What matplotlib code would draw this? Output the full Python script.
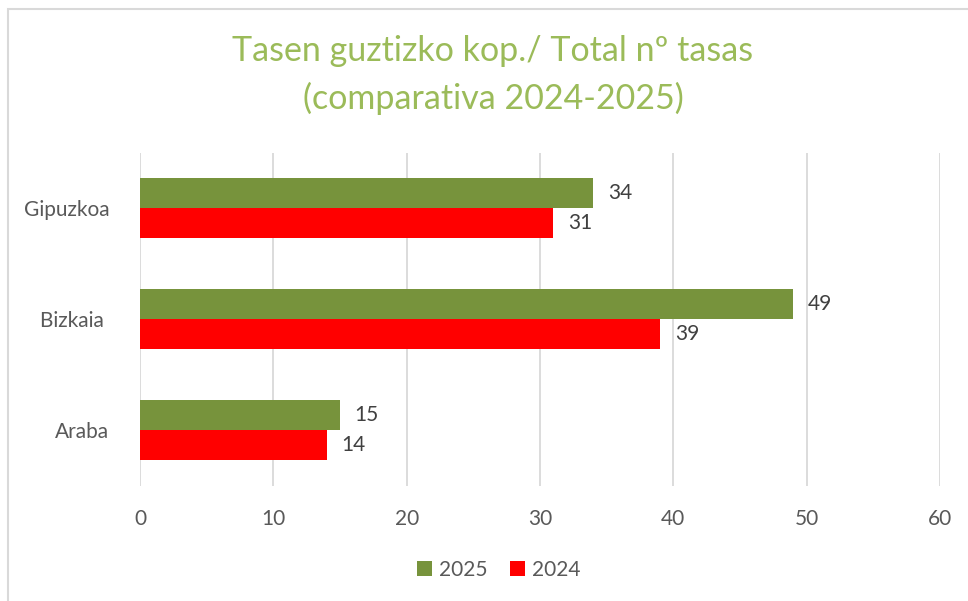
import matplotlib
matplotlib.use("Agg")
import matplotlib.pyplot as plt
from matplotlib.patches import Rectangle, Patch
import numpy as np

categories = ["Araba", "Bizkaia ", "Gipuzkoa"]
values_2025 = [15, 49, 34]
values_2024 = [14, 39, 31]
series_labels = ["2025", "2024"]
xticks = [0, 10, 20, 30, 40, 50, 60]
title_text = "Tasen guztizko kop./ Total nº tasas\n(comparativa 2024-2025)"

plt.rcParams['font.family'] = ['Lato', 'DejaVu Sans']

W, H = 968, 601
fig = plt.figure(figsize=(W/100, H/100), dpi=100)
fig.patch.set_facecolor("white")

# outer border
fig.patches.append(Rectangle((8/W, -0.1), 1.2, 1 - 9/H + 0.1, transform=fig.transFigure,
                             fill=False, edgecolor="#D9D9D9", linewidth=1.5))

left, right = 140/W, 940/W
top, bottom = 1 - 152.5/H, 1 - 485.5/H
ax = fig.add_axes([left, bottom, right - left, top - bottom])

y = np.arange(len(categories))
h = 0.266
green = "#77933C"
red = "#FF0000"
ax.barh(y + h/2, values_2025, height=h, color=green, label=series_labels[0], zorder=3)
ax.barh(y - h/2, values_2024, height=h, color=red, label=series_labels[1], zorder=3)

for yi, v in zip(y, values_2025):
    ax.text(v + 1.1, yi + h/2, str(v), va="center", ha="left", fontsize=15, color="#404040")
for yi, v in zip(y, values_2024):
    ax.text(v + 1.1, yi - h/2, str(v), va="center", ha="left", fontsize=15, color="#404040")

ax.set_xlim(0, 60)
ax.set_ylim(-0.5, 2.5)
ax.set_xticks(xticks)
ax.set_xticklabels([str(t) for t in xticks], fontsize=15, color="#595959")
ax.set_yticks(y)
ax.set_yticklabels(categories, fontsize=15, color="#595959")
ax.tick_params(axis="both", length=0)
ax.tick_params(axis="x", pad=17)
ax.tick_params(axis="y", pad=22)
ax.xaxis.grid(True, color="#D9D9D9", linewidth=1.3, zorder=0)
ax.set_axisbelow(True)
for s in ax.spines.values():
    s.set_visible(False)

fig.text(493/W, 1 - 75/H, title_text, ha="center", va="center", fontsize=24.5,
         color="#9BBB59", linespacing=1.55)

handles = [Patch(facecolor=green), Patch(facecolor=red)]
fig.legend(handles, series_labels, loc="center", bbox_to_anchor=(499/W, 1 - 570/H),
           ncol=2, frameon=False, fontsize=15, handlelength=0.7, handleheight=0.7,
           handletextpad=0.35, columnspacing=1.1, labelcolor="#595959")

fig.savefig("out.png", dpi=100, facecolor="white")
